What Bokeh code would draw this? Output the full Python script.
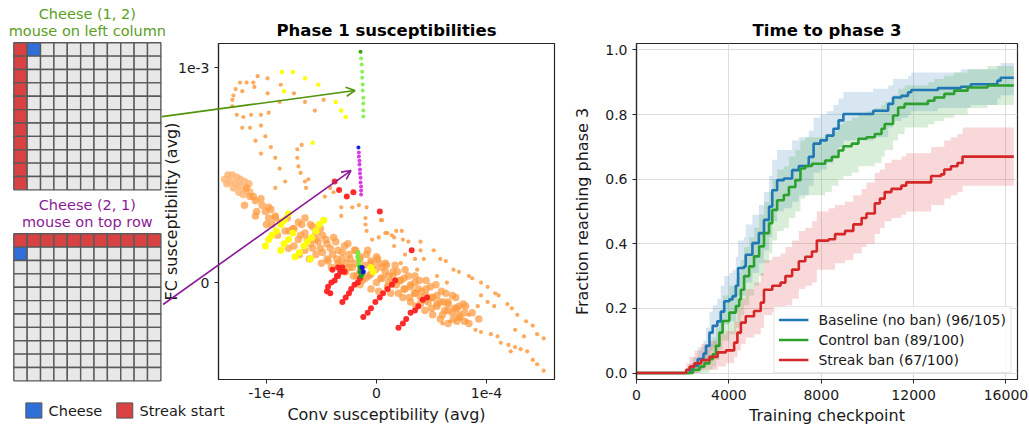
import numpy as np
from bokeh.plotting import figure
from bokeh.layouts import row
from bokeh.models import (Range1d, FixedTicker, Label, Arrow, OpenHead,
                          Legend, LegendItem, PrintfTickFormatter)
from bokeh.embed import file_html
from bokeh.resources import INLINE

# ======================= DATA =======================
# --- mazes (row, col indices on an 11x11 grid)
maze_size = 11
maze_titles = [["Cheese (1, 2)", "mouse on left column"], ["Cheese (2, 1)", "mouse on top row"]]
maze1_streak_rows = [0, 1, 2, 3, 4, 5, 6, 7, 8, 9, 10]
maze1_streak_cols = [0, 0, 0, 0, 0, 0, 0, 0, 0, 0, 0]
maze1_cheese = [0, 1]
maze2_streak_rows = [0, 0, 0, 0, 0, 0, 0, 0, 0, 0, 0]
maze2_streak_cols = [0, 1, 2, 3, 4, 5, 6, 7, 8, 9, 10]
maze2_cheese = [1, 0]
maze_legend_labels = ["Cheese", "Streak start"]

# --- phase 1 susceptibilities: (conv [x1e-4], fc [x1e-3])
orange_sparse = [(-1.08, 0.96), (-1.24, 0.93), (-1.18, 0.93), (-1.12, 0.93), (-0.99, 0.95), (-0.87, 0.92),
                 (-0.75, 0.88), (-0.99, 0.88), (-1.11, 0.91), (-1.22, 0.89), (-1.28, 0.90), (-1.30, 0.87),
                 (-1.31, 0.85), (-1.31, 0.82), (-1.27, 0.78), (-1.21, 0.77), (-1.14, 0.78), (-1.05, 0.78),
                 (-0.98, 0.79), (-1.22, 0.72), (-1.15, 0.72), (-1.05, 0.73), (-1.01, 0.68), (-1.10, 0.66),
                 (-1.05, 0.60), (-0.96, 0.63), (-0.88, 0.84), (-0.65, 0.84), (-0.56, 0.80), (-0.48, 0.85),
                 (-0.72, 0.62), (-0.72, 0.58), (-0.71, 0.54), (-0.69, 0.51), (-0.68, 0.64), (-0.65, 0.47),
                 (-0.83, 0.47), (-0.92, 0.44), (-0.88, 0.53), (-0.92, 0.58), (-0.64, 0.44), (-0.47, 0.40),
                 (-0.32, 0.35), (-0.32, 0.31), (-0.22, 0.35), (-0.16, 0.36), (-0.09, 0.35), (-0.10, 0.30),
                 (-0.10, 0.27), (-0.09, 0.24), (-0.04, 0.20), (0.02, 0.21), (0.08, 0.23), (0.14, 0.22),
                 (0.05, 0.29), (-0.42, 0.44), (-0.39, 0.42), (-0.62, 0.48),
                 (0.04, 0.29), (0.10, 0.23), (0.18, 0.24), (0.23, 0.24), (0.16, 0.21), (0.24, 0.20),
                 (0.29, 0.19), (0.40, 0.19), (0.16, 0.17), (0.40, 0.15), (0.52, 0.15), (0.26, 0.13),
                 (0.35, 0.11), (0.43, 0.11), (0.58, 0.11), (0.63, 0.10), (0.22, 0.09), (0.37, 0.06),
                 (0.70, 0.06), (0.75, 0.05), (0.84, 0.03), (0.87, 0.02), (0.55, 0.03), (0.64, 0.00),
                 (0.95, 0.00), (1.01, -0.02), (1.08, -0.05), (1.11, -0.06), (1.19, -0.10), (1.23, -0.12),
                 (1.28, -0.15), (1.36, -0.18), (1.42, -0.20), (1.46, -0.24), (1.52, -0.26), (0.95, -0.06),
                 (1.01, -0.09), (1.07, -0.11), (0.92, -0.11), (0.90, -0.22), (0.95, -0.23), (1.04, -0.24),
                 (1.10, -0.25), (1.13, -0.28), (1.20, -0.29), (1.26, -0.30), (1.31, -0.31), (1.37, -0.32),
                 (1.42, -0.36), (1.46, -0.38), (1.52, -0.41), (0.82, -0.18), (0.84, -0.15), (0.76, -0.17),
                 (0.67, -0.18), (0.60, -0.19), (1.26, -0.22), (1.34, -0.25), (1.22, -0.32)]
orange_dense = [(-1.15, 0.40), (-1.10, 0.38), (-1.05, 0.39), (-1.04, 0.36), (-1.09, 0.33), (-1.01, 0.33),
                (-0.96, 0.34), (-0.98, 0.30), (-0.92, 0.31), (-0.95, 0.27), (-0.87, 0.28), (-0.83, 0.24),
                (-0.76, 0.25), (-0.71, 0.28), (-0.65, 0.30), (-0.60, 0.27), (-0.69, 0.22), (-0.63, 0.20),
                (-0.55, 0.23), (-0.51, 0.25), (-0.58, 0.16), (-0.53, 0.19), (-0.46, 0.20), (-0.49, 0.14),
                (-0.42, 0.16), (-0.37, 0.19), (-0.44, 0.10), (-0.36, 0.11), (-0.31, 0.14), (-0.33, 0.08),
                (-0.27, 0.09), (-0.24, 0.11), (-0.28, 0.05), (-0.22, 0.07), (-0.18, 0.03), (-0.13, 0.01),
                (-0.07, 0.03), (-0.04, 0.07), (0.02, 0.09), (0.04, 0.02), (0.08, 0.05), (0.11, 0.00),
                (0.15, 0.03), (0.18, -0.01), (0.22, 0.01), (0.26, -0.03), (0.31, -0.01), (0.35, -0.05),
                (0.38, -0.03), (0.40, -0.07), (0.45, -0.06), (0.47, -0.09), (0.51, -0.07), (0.55, -0.11),
                (0.58, -0.09), (0.62, -0.13), (0.65, -0.10), (0.69, -0.14), (0.73, -0.12), (0.76, -0.16),
                (0.80, -0.14), (0.24, -0.07), (0.31, -0.09), (0.36, -0.11), (0.44, -0.13), (0.51, -0.15),
                (0.58, -0.17), (0.65, -0.19), (0.73, -0.18), (0.13, -0.05), (0.02, -0.04), (-0.05, -0.03),
                (-0.15, -0.01), (0.08, 0.09), (0.17, 0.08), (0.26, 0.06), (0.35, 0.03), (0.45, 0.01),
                (0.54, -0.01), (0.63, -0.05), (0.72, -0.07), (0.81, -0.11), (0.87, -0.14), (0.84, -0.19),
                (0.93, -0.17), (-0.26, 0.18), (-0.20, 0.15), (-0.15, 0.12), (-0.08, 0.15), (0.00, 0.12),
                (-0.05, 0.10),
                (-1.20, 0.36), (-1.18, 0.44), (-1.10, 0.31), (-1.12, 0.40), (-1.00, 0.27), (-0.98, 0.35),
                (-0.90, 0.22), (-0.92, 0.30), (-0.80, 0.16), (-0.79, 0.24), (-0.81, 0.30), (-0.70, 0.13),
                (-0.71, 0.20), (-0.68, 0.27), (-0.61, 0.11), (-0.60, 0.18), (-0.58, 0.26), (-0.50, 0.09),
                (-0.51, 0.16), (-0.49, 0.22), (-0.41, 0.07), (-0.40, 0.13), (-0.39, 0.21), (-0.30, 0.05),
                (-0.31, 0.11), (-0.29, 0.17), (-0.21, 0.03), (-0.20, 0.09), (-0.19, 0.15), (-0.10, 0.02),
                (-0.11, 0.08), (-0.09, 0.13), (0.00, 0.00), (-0.01, 0.06), (0.01, 0.11), (0.10, -0.02),
                (0.11, 0.03), (0.09, 0.08), (0.20, -0.05), (0.21, 0.01), (0.19, 0.05), (0.30, -0.07),
                (0.31, -0.02), (0.29, 0.03), (0.40, -0.10), (0.41, -0.04), (0.39, 0.01), (0.50, -0.12),
                (0.51, -0.07), (0.49, -0.02), (0.60, -0.15), (0.61, -0.09), (0.59, -0.04), (0.70, -0.17),
                (0.71, -0.12), (0.69, -0.06), (0.80, -0.18), (0.79, -0.10),
                (-0.75, 0.17), (-0.65, 0.15), (-0.55, 0.13), (-0.45, 0.11), (-0.35, 0.09), (-0.25, 0.07),
                (-0.15, 0.05), (-0.05, 0.04), (0.05, 0.02), (0.15, 0.00), (0.25, -0.03), (0.35, 0.00),
                (0.45, -0.08), (0.55, -0.10), (0.65, -0.13), (0.75, -0.15), (-0.75, 0.25), (-0.65, 0.23),
                (-0.55, 0.20), (-0.45, 0.18), (-0.35, 0.15), (-0.25, 0.13), (-0.15, 0.11), (-0.05, 0.09),
                (0.05, 0.07), (0.15, 0.05), (0.25, 0.02), (0.35, -0.05), (0.45, -0.03), (0.55, -0.06),
                (0.65, -0.09), (0.75, -0.11)]
light_orange = [(-1.38, 0.48), (-1.35, 0.50), (-1.31, 0.50), (-1.27, 0.49), (-1.24, 0.48), (-1.20, 0.47),
                (-1.16, 0.46), (-1.36, 0.46), (-1.33, 0.47), (-1.28, 0.46), (-1.24, 0.45), (-1.19, 0.43),
                (-1.15, 0.42), (-1.30, 0.44), (-1.25, 0.42), (-1.21, 0.41)]
yellow_pts = [(-0.86, 0.98), (-0.76, 0.98), (-0.65, 0.95), (-0.53, 0.92), (-0.84, 0.89), (-0.37, 0.84),
              (-0.32, 0.80), (-0.28, 0.77), (-0.58, 0.65)]
yellow_streaks = [(-1.01, 0.17), (-0.98, 0.20), (-0.95, 0.22), (-0.91, 0.24), (-0.87, 0.27), (-0.84, 0.29),
                  (-0.80, 0.32), (-0.87, 0.15), (-0.84, 0.18), (-0.80, 0.20), (-0.76, 0.23),
                  (-0.74, 0.12), (-0.70, 0.14), (-0.66, 0.17), (-0.63, 0.19), (-0.59, 0.21), (-0.55, 0.24),
                  (-0.52, 0.27), (-0.48, 0.29), (-0.60, 0.11), (-0.03, 0.05), (-0.05, 0.07)]
red_pts = [(-0.38, 0.47), (-0.34, 0.43), (-0.21, 0.42), (0.03, 0.33), (-0.27, 0.40), (0.32, 0.15),
           (-0.45, -0.04), (-0.42, -0.05), (-0.44, -0.02), (-0.41, 0.00), (-0.38, 0.01), (-0.35, 0.03),
           (-0.33, 0.05), (-0.31, 0.07), (-0.31, -0.09), (-0.28, -0.07), (-0.25, -0.05), (-0.23, -0.03),
           (-0.20, -0.01), (-0.17, 0.00), (-0.15, 0.02), (-0.12, -0.16), (-0.08, -0.14), (-0.05, -0.12),
           (-0.01, -0.09), (0.03, -0.07), (0.06, -0.05), (0.10, -0.03), (0.14, -0.01), (0.17, 0.01),
           (0.20, -0.21), (0.24, -0.19), (0.27, -0.17), (0.31, -0.14), (0.35, -0.13), (0.38, -0.11),
           (0.42, -0.08), (0.46, -0.07), (-0.40, 0.06), (-0.35, 0.07), (-0.29, 0.05), (-0.36, 0.03)]
lime_track_conv = [-0.145, -0.14, -0.135, -0.13, -0.13, -0.125, -0.125, -0.12, -0.12, -0.12, -0.12]
lime_track_fc = [1.074, 1.042, 1.014, 0.981, 0.953, 0.921, 0.893, 0.860, 0.833, 0.800, 0.772]
magenta_track_conv = [-0.164, -0.16, -0.16, -0.155, -0.155, -0.15, -0.15, -0.145, -0.145, -0.14, -0.14, -0.14]
magenta_track_fc = [0.628, 0.605, 0.586, 0.567, 0.549, 0.526, 0.507, 0.488, 0.465, 0.447, 0.428, 0.409]
cluster_lime = [(-0.17, 0.14), (-0.17, 0.12), (-0.16, 0.10), (-0.16, 0.08)]
cluster_green = [(-0.15, 0.07), (-0.15, 0.05), (-0.14, 0.03), (-0.13, 0.04)]
cluster_blue = [(-0.13, 0.07), (-0.12, 0.05)]
conv_ticks = [-1e-4, 0, 1e-4]
conv_tick_labels = ["-1e-4", "0", "1e-4"]
fc_ticks = [0, 1e-3]
fc_tick_labels = ["0", "1e-3"]

# --- time to phase 3 (training checkpoint, fraction reaching phase 3, CI)
series_labels = ["Baseline (no ban) (96/105)", "Control ban (89/100)", "Streak ban (67/100)"]
blue_x = [0, 2320, 2440, 2650, 2900, 3010, 3160, 3300, 3500, 3650, 3800, 4020, 4160, 4300, 4400, 4660, 4730,
          5020, 5300, 5520, 5740, 5880, 6090, 6380, 6740, 7030, 7460, 7670, 7960, 8240, 8530, 8750, 8960,
          10250, 10900, 11110, 11470, 11760, 11900, 13050, 14050, 14480, 15630, 15770, 16340]
blue_y = [0, 0.01, 0.022, 0.043, 0.06, 0.084, 0.125, 0.146, 0.16, 0.19, 0.222, 0.228, 0.238, 0.27, 0.325,
          0.33, 0.366, 0.402, 0.433, 0.474, 0.515, 0.566, 0.597, 0.602, 0.628, 0.641, 0.669, 0.71, 0.72,
          0.735, 0.756, 0.782, 0.802, 0.812, 0.833, 0.853, 0.858, 0.869, 0.876, 0.882, 0.886, 0.894, 0.905,
          0.914, 0.914]
blue_lo = [0, 0, 0, 0.01, 0.02, 0.04, 0.07, 0.08, 0.10, 0.12, 0.15, 0.16, 0.16, 0.19, 0.24, 0.24, 0.28, 0.31,
           0.34, 0.38, 0.42, 0.47, 0.50, 0.51, 0.53, 0.55, 0.58, 0.62, 0.63, 0.65, 0.67, 0.70, 0.72, 0.73,
           0.76, 0.78, 0.79, 0.80, 0.81, 0.82, 0.82, 0.83, 0.85, 0.86, 0.86]
blue_hi = [0, 0.03, 0.05, 0.08, 0.10, 0.14, 0.19, 0.21, 0.23, 0.27, 0.30, 0.31, 0.32, 0.36, 0.41, 0.42, 0.46,
           0.49, 0.52, 0.56, 0.61, 0.66, 0.69, 0.69, 0.72, 0.73, 0.75, 0.79, 0.80, 0.81, 0.83, 0.85, 0.87,
           0.88, 0.89, 0.91, 0.91, 0.92, 0.93, 0.93, 0.94, 0.94, 0.95, 0.96, 0.96]
green_x = [0, 2440, 2730, 2940, 3160, 3300, 3440, 3590, 3730, 4020, 4300, 4450, 4520, 4660, 4880, 5090, 5310,
           5520, 5740, 5880, 6090, 6380, 6600, 6880, 7100, 7310, 7600, 8170, 8460, 8750, 8960, 9320, 9610,
           9960, 10320, 10610, 10750, 11110, 11330, 11610, 12620, 12900, 13330, 13760, 14340, 15200, 16340]
green_y = [0, 0.01, 0.02, 0.03, 0.043, 0.058, 0.084, 0.125, 0.161, 0.187, 0.207, 0.228, 0.258, 0.30, 0.33,
           0.361, 0.392, 0.433, 0.464, 0.505, 0.535, 0.551, 0.576, 0.597, 0.633, 0.641, 0.648, 0.658, 0.669,
           0.689, 0.702, 0.71, 0.725, 0.73, 0.74, 0.756, 0.771, 0.797, 0.822, 0.833, 0.843, 0.853, 0.864,
           0.874, 0.884, 0.89, 0.89]
green_lo = [0, 0, 0, 0, 0.01, 0.02, 0.04, 0.07, 0.10, 0.12, 0.14, 0.15, 0.18, 0.21, 0.24, 0.27, 0.30, 0.34,
            0.37, 0.41, 0.44, 0.45, 0.48, 0.50, 0.54, 0.55, 0.55, 0.56, 0.58, 0.60, 0.61, 0.62, 0.64, 0.64,
            0.65, 0.67, 0.69, 0.72, 0.74, 0.76, 0.77, 0.78, 0.79, 0.80, 0.82, 0.83, 0.83]
green_hi = [0, 0.03, 0.05, 0.07, 0.09, 0.11, 0.14, 0.19, 0.24, 0.27, 0.29, 0.31, 0.35, 0.39, 0.42, 0.45, 0.49,
            0.53, 0.56, 0.60, 0.63, 0.64, 0.67, 0.69, 0.72, 0.73, 0.73, 0.74, 0.75, 0.77, 0.78, 0.79, 0.80,
            0.81, 0.82, 0.83, 0.84, 0.86, 0.88, 0.89, 0.90, 0.91, 0.92, 0.93, 0.94, 0.95, 0.95]
red_x = [0, 2150, 2300, 2510, 2800, 3160, 3510, 3870, 4230, 4370, 4520, 4730, 5090, 5380, 5520, 5880, 6240,
         6450, 6740, 7030, 7310, 7600, 7810, 8320, 8600, 9030, 9390, 9750, 9960, 10320, 10540, 10750, 11040,
         11470, 11680, 12760, 13190, 13330, 13620, 13900, 14120, 16340]
red_y = [0, 0.01, 0.02, 0.03, 0.04, 0.05, 0.064, 0.07, 0.094, 0.125, 0.156, 0.176, 0.192, 0.218, 0.258, 0.27,
         0.28, 0.30, 0.32, 0.346, 0.36, 0.376, 0.41, 0.414, 0.43, 0.44, 0.46, 0.48, 0.494, 0.525, 0.54, 0.56,
         0.57, 0.58, 0.59, 0.61, 0.615, 0.63, 0.64, 0.65, 0.67, 0.67]
red_lo = [0, 0, 0, 0, 0.01, 0.01, 0.02, 0.03, 0.05, 0.07, 0.09, 0.11, 0.12, 0.14, 0.18, 0.19, 0.20, 0.21,
          0.23, 0.26, 0.27, 0.28, 0.32, 0.32, 0.34, 0.35, 0.37, 0.39, 0.40, 0.43, 0.45, 0.47, 0.48, 0.49,
          0.50, 0.52, 0.52, 0.54, 0.55, 0.56, 0.58, 0.58]
red_hi = [0, 0.03, 0.05, 0.07, 0.09, 0.10, 0.12, 0.13, 0.16, 0.20, 0.23, 0.26, 0.28, 0.31, 0.35, 0.36, 0.37,
          0.39, 0.41, 0.44, 0.45, 0.47, 0.50, 0.51, 0.52, 0.53, 0.55, 0.57, 0.59, 0.62, 0.63, 0.65, 0.66,
          0.67, 0.68, 0.70, 0.70, 0.72, 0.73, 0.74, 0.76, 0.76]
ckpt_ticks = [0, 4000, 8000, 12000, 16000]
frac_ticks = [0.0, 0.2, 0.4, 0.6, 0.8, 1.0]

# ======================= STYLE / LAYOUT =======================
FONT = "DejaVu Sans"
CONV_UNIT, FC_UNIT = 1e-4, 1e-3
GREEN_TXT, GREEN_ARW = "#5a9e1e", "#4f9409"
PURPLE = "#8b1a96"
ORANGE, LORANGE = "#ff9a40", "#ffb676"
AXC = "#262626"
H = 427


def style_axes(p):
    for ax in (p.xaxis[0], p.yaxis[0]):
        ax.axis_line_color = AXC
        ax.axis_line_width = 1.2
        ax.major_tick_line_color = AXC
        ax.major_tick_out = 4
        ax.major_tick_in = 0
        ax.minor_tick_line_color = None
        ax.major_label_text_font = FONT
        ax.major_label_text_font_size = "14px"
        ax.major_label_text_color = "#1a1a1a"
        ax.axis_label_text_font = FONT
        ax.axis_label_text_font_size = "16px"
        ax.axis_label_text_font_style = "normal"
        ax.axis_label_text_color = "#1a1a1a"
    p.outline_line_color = AXC
    p.outline_line_width = 1.2
    p.outline_line_alpha = 1
    p.title.text_font = FONT
    p.title.text_font_size = "16.5px"
    p.title.text_font_style = "bold"
    p.title.text_color = "#000000"
    p.title.align = "center"
    p.title.standoff = 8


def pts(lst):
    a = np.array(lst, dtype=float)
    return a[:, 0] * CONV_UNIT, a[:, 1] * FC_UNIT


# ---------- middle figure (scatter) ----------
W_MID = 570
FR_L, FR_R, FR_T, FR_B = 218, 554, 43, 379
SX0, SX1 = -1.436e-4, 1.618e-4
SY0, SY1 = -0.451e-3, 1.112e-3
pm = figure(width=W_MID, height=H, output_backend="svg", toolbar_location=None,
            x_range=Range1d(SX0, SX1), y_range=Range1d(SY0, SY1),
            min_border_left=FR_L, min_border_right=W_MID - FR_R, min_border_top=FR_T,
            min_border_bottom=H - FR_B, title="Phase 1 susceptibilities")
style_axes(pm)
pm.grid.visible = False
pm.xaxis.axis_label = "Conv susceptibility (avg)"
pm.yaxis.axis_label = "FC susceptibility (avg)"
pm.xaxis.ticker = FixedTicker(ticks=conv_ticks)
pm.xaxis.major_label_overrides = dict(zip(conv_ticks, conv_tick_labels))
pm.yaxis.ticker = FixedTicker(ticks=fc_ticks)
pm.yaxis.major_label_overrides = dict(zip(fc_ticks, fc_tick_labels))
pm.xaxis.major_label_standoff = 4
pm.xaxis.axis_label_standoff = 4
pm.yaxis.major_label_standoff = 5
pm.yaxis.axis_label_standoff = -6

x, y = pts(light_orange)
pm.scatter(x, y, size=7.5, fill_color=LORANGE, line_color=None, fill_alpha=0.85)
x, y = pts(orange_dense)
pm.scatter(x, y, size=7.5, fill_color=ORANGE, line_color=None, fill_alpha=0.72)
x, y = pts(orange_sparse)
pm.scatter(x, y, size=4.2, fill_color=ORANGE, line_color=None, fill_alpha=0.85)
x, y = pts(yellow_pts)
pm.scatter(x, y, size=4.5, fill_color="#ffff00", line_color=None, fill_alpha=0.95)
x, y = pts(yellow_streaks)
pm.scatter(x, y, size=7, fill_color="#ffff00", line_color=None, fill_alpha=0.95)
x, y = pts(red_pts)
pm.scatter(x, y, size=6, fill_color="#ff2020", line_color=None, fill_alpha=0.95)
lime_cols = ["#3aa600"] + ["#8af25a"] * (len(lime_track_conv) - 1)
pm.scatter(np.array(lime_track_conv) * CONV_UNIT, np.array(lime_track_fc) * FC_UNIT, size=4,
           fill_color=lime_cols, line_color=None)
mag_cols = ["#1f1fe0"] + ["#dc3ee8"] * (len(magenta_track_conv) - 1)
pm.scatter(np.array(magenta_track_conv) * CONV_UNIT, np.array(magenta_track_fc) * FC_UNIT, size=4,
           fill_color=mag_cols, line_color=None)
for lst, col in ((cluster_lime, "#7be83c"), (cluster_green, "#1f9e1f"), (cluster_blue, "#1515d0")):
    x, y = pts(lst)
    pm.scatter(x, y, size=5, fill_color=col, line_color=None)

# ---------- right figure ----------
pr = figure(width=459, height=H, output_backend="svg", toolbar_location=None,
            x_range=Range1d(0, 16500), y_range=Range1d(-0.02, 1.02),
            min_border_left=63, min_border_right=12, min_border_top=42, min_border_bottom=47,
            title="Time to phase 3")
style_axes(pr)
pr.grid.grid_line_color = "#dedede"
pr.grid.grid_line_width = 1
pr.xaxis.axis_label = "Training checkpoint"
pr.yaxis.axis_label = "Fraction reaching phase 3"
pr.xaxis.ticker = FixedTicker(ticks=ckpt_ticks)
pr.yaxis.ticker = FixedTicker(ticks=frac_ticks)
pr.yaxis.formatter = PrintfTickFormatter(format="%.1f")
pr.xaxis.major_label_standoff = 6
pr.xaxis.axis_label_standoff = 3
pr.yaxis.major_label_standoff = 5
pr.yaxis.axis_label_standoff = 10

series = [(blue_x, blue_y, blue_lo, blue_hi, "#1f77b4"),
          (green_x, green_y, green_lo, green_hi, "#2ca02c"),
          (red_x, red_y, red_lo, red_hi, "#d62728")]
for sx, sy, lo, hi, col in series:
    pr.varea_step(x=sx, y1=lo, y2=hi, step_mode="after", fill_color=col, fill_alpha=0.18)
lines = []
for sx, sy, lo, hi, col in series:
    lines.append(pr.step(sx, sy, mode="after", line_color=col, line_width=2.6))
legend = Legend(items=[LegendItem(label=l, renderers=[r]) for l, r in zip(series_labels, lines)],
                location="bottom_right", label_text_font=FONT, label_text_font_size="14px",
                label_text_color="#1a1a1a", glyph_width=30, glyph_height=17, label_height=17,
                label_standoff=10, spacing=3, padding=4, margin=6, border_line_color="#cccccc",
                border_line_width=1, background_fill_alpha=0.85)
pr.add_layout(legend)

# ---------- transparent overlay (separate root): mazes, legend, arrows ----------
W_OV = 370
CELL, GX0, GY0 = 13.37, 13.3, 42.3
pz = figure(width=W_OV, height=H, output_backend="svg", toolbar_location=None,
            x_range=Range1d(-GX0 / CELL, (W_OV - GX0) / CELL),
            y_range=Range1d((H - GY0) / CELL, -GY0 / CELL),
            x_axis_location=None, y_axis_location=None,
            min_border=0, min_border_left=0, min_border_right=0, min_border_top=0, min_border_bottom=0)
pz.grid.visible = False
pz.outline_line_color = None
pz.background_fill_alpha = 0
pz.border_fill_alpha = 0
pz.margin = (-H, 0, 0, 0)
# susceptibility coordinates of the overlay canvas (same mapping as the scatter frame)
kx = (SX1 - SX0) / (FR_R - FR_L)
ky = (SY1 - SY0) / (FR_B - FR_T)
pz.extra_x_ranges = {"sus": Range1d(SX0 - FR_L * kx, SX0 + (W_OV - FR_L) * kx)}
pz.extra_y_ranges = {"sus": Range1d(SY0 - (H - FR_B) * ky, SY1 + FR_T * ky)}

maze_tops = [0.0, (233.3 - GY0) / CELL]
mazes = [(maze1_streak_rows, maze1_streak_cols, maze1_cheese),
         (maze2_streak_rows, maze2_streak_cols, maze2_cheese)]
title_cols = [GREEN_TXT, PURPLE]
CHEESE_C, STREAK_C, EMPTY_C, LINE_C = "#2f6fd8", "#d94242", "#e8e8e8", "#5a5a5a"

L, R, T, B, C = [], [], [], [], []
for k, (srows, scols, cheese) in enumerate(mazes):
    top = maze_tops[k]
    streak = set(zip(srows, scols))
    for r in range(maze_size):
        for c in range(maze_size):
            if (r, c) == tuple(cheese):
                col = CHEESE_C
            elif (r, c) in streak:
                col = STREAK_C
            else:
                col = EMPTY_C
            L.append(c); R.append(c + 1); T.append(top + r); B.append(top + r + 1); C.append(col)
pz.quad(left=L, right=R, top=T, bottom=B, fill_color=C, line_color=LINE_C, line_width=1.4)

for k in range(2):
    for j, txt in enumerate(maze_titles[k]):
        pz.add_layout(Label(x=maze_size / 2, y=maze_tops[k] - 2.12 + 1.27 * j, text=txt,
                            text_align="center", text_baseline="middle", text_font=FONT,
                            text_font_size="14.5px", text_color=title_cols[k]))

leg_y = (410 - GY0) / CELL
leg_x = [0.9, 7.7]
pz.quad(left=leg_x, right=[v + 1.2 for v in leg_x], top=[leg_y - 0.57] * 2, bottom=[leg_y + 0.57] * 2,
        fill_color=[CHEESE_C, STREAK_C], line_color="#555555", line_width=1)
for bx, txt in zip(leg_x, maze_legend_labels):
    pz.add_layout(Label(x=bx + 1.7, y=leg_y, text=txt, text_align="left", text_baseline="middle",
                        text_font=FONT, text_font_size="14.5px", text_color="#1a1a1a"))

for (xs, ys, xe, ye), col in (((-1.95, 0.772, -0.195, 0.893), GREEN_ARW),
                              ((-1.94, -0.102, -0.232, 0.521), PURPLE)):
    pz.add_layout(Arrow(end=OpenHead(size=9, line_color=col, line_width=1.6),
                        x_start=xs * CONV_UNIT, y_start=ys * FC_UNIT, x_end=xe * CONV_UNIT, y_end=ye * FC_UNIT,
                        line_color=col, line_width=1.6, x_range_name="sus", y_range_name="sus"))

layout = row(pm, pr)
open("out.html", "w").write(file_html([layout, pz], INLINE))
